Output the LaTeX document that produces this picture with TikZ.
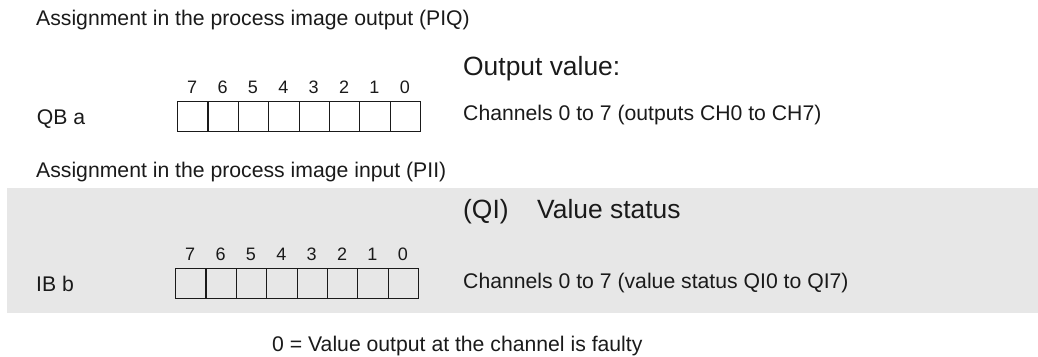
\documentclass[tikz,border=0pt]{standalone}
\usepackage{fontspec}
\setmainfont{Liberation Sans}
\definecolor{ink}{RGB}{26,26,26}
\definecolor{band}{RGB}{231,231,231}
\begin{document}
\begin{tikzpicture}[x=1pt,y=-1pt,
  txt/.style={anchor=base west, inner sep=0pt, font=\fontsize{21.2}{24}\selectfont, text=ink},
  head/.style={anchor=base west, inner sep=0pt, font=\fontsize{26.4}{30}\selectfont, text=ink},
  bitno/.style={anchor=base, inner sep=0pt, font=\fontsize{18}{20}\selectfont, text=ink},
  cell/.style={draw=ink, line width=1.2pt, minimum width=30.375pt, minimum height=30pt,
               inner sep=0pt, anchor=north west}]
\useasboundingbox (0,0) rectangle (1038,356);

% shaded area of the input byte
\fill[band] (7.3,188) rectangle (1038,312.7);

% output byte QB a
\node[txt] (piq) at (36,25) {Assignment in the process image output (PIQ)};
\node[head] (outval) at (463,75) {Output value:};
\node[txt] (qb) at (36.7,124) {QB a};
\node[txt] (chout) at (463,120) {Channels 0 to 7 (outputs CH0 to CH7)};
\foreach \i in {0,...,7} {
  \pgfmathtruncatemacro\bit{7-\i}
  \node[cell] (qa\i) at ({177+\i*30.375},101) {};
  \node[bitno] (qn\i) at ({177+\i*30.375+15.19},93) {\bit};
}

% input byte IB b
\node[txt] (pii) at (36,177.3) {Assignment in the process image input (PII)};
\node[head] (qi) at (463,218.5) {(QI)};
\node[head] (vstat) at (537,218.5) {Value status};
\node[txt] (ib) at (36,291.7) {IB b};
\node[txt] (chin) at (463,288) {Channels 0 to 7 (value status QI0 to QI7)};
\foreach \i in {0,...,7} {
  \pgfmathtruncatemacro\bit{7-\i}
  \node[cell] (ib\i) at ({175+\i*30.375},268) {};
  \node[bitno] (in\i) at ({175+\i*30.375+15.19},260) {\bit};
}

\node[txt] (fault) at (272,351) {0 = Value output at the channel is faulty};
\end{tikzpicture}
\end{document}
